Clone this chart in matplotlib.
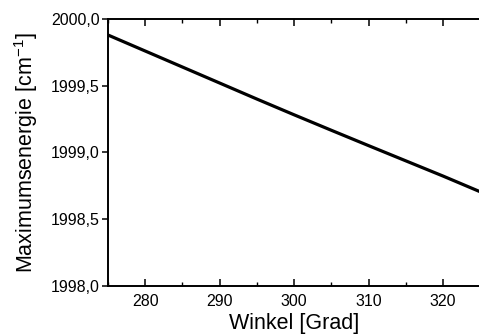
import matplotlib
matplotlib.use("Agg")
import matplotlib.pyplot as plt
from matplotlib.ticker import FuncFormatter, MultipleLocator

plt.rcParams['font.family'] = ['Liberation Sans', 'DejaVu Sans']
plt.rcParams['mathtext.fontset'] = 'custom'
plt.rcParams['mathtext.rm'] = 'Liberation Sans'
plt.rcParams['mathtext.it'] = 'Liberation Sans'

# data
winkel = [275, 280, 285, 290, 295, 300, 305, 310, 315, 320, 325]
energie = [1999.880, 1999.760, 1999.640, 1999.520, 1999.400, 1999.282,
           1999.166, 1999.051, 1998.937, 1998.823, 1998.705]

x_ticks = [280, 290, 300, 310, 320]
y_ticks = [1998.0, 1998.5, 1999.0, 1999.5, 2000.0]

fig = plt.figure(figsize=(4.79, 3.35), dpi=100)
ax = fig.add_axes([0.2255, 0.1463, 0.7775, 0.797])

ax.plot(winkel, energie, color='black', linewidth=2.3)

ax.set_xlim(275, 325)
ax.set_ylim(1998.0, 2000.0)
ax.set_xticks(x_ticks)
ax.set_yticks(y_ticks)
ax.xaxis.set_minor_locator(MultipleLocator(5))

comma = FuncFormatter(lambda v, pos: f"{v:.1f}".replace('.', ','))
ax.yaxis.set_major_formatter(comma)

ax.tick_params(axis='x', which='major', direction='in', length=5, width=1.1,
               top=True, labelsize=11.5, pad=6)
ax.tick_params(axis='x', which='minor', direction='in', length=3, width=1.0,
               top=True)
ax.tick_params(axis='y', which='major', direction='out', length=4, width=1.1,
               labelsize=11.5, pad=2)

for side in ['left', 'bottom', 'top']:
    ax.spines[side].set_linewidth(1.4)
ax.spines['right'].set_visible(False)

ax.set_xlabel("Winkel [Grad]", fontsize=15.5, labelpad=3)
ax.set_ylabel("Maximumsenergie [cm$^{-1}$]", fontsize=15.5, labelpad=8)

fig.savefig("out.png", dpi=100)
plt.close(fig)
